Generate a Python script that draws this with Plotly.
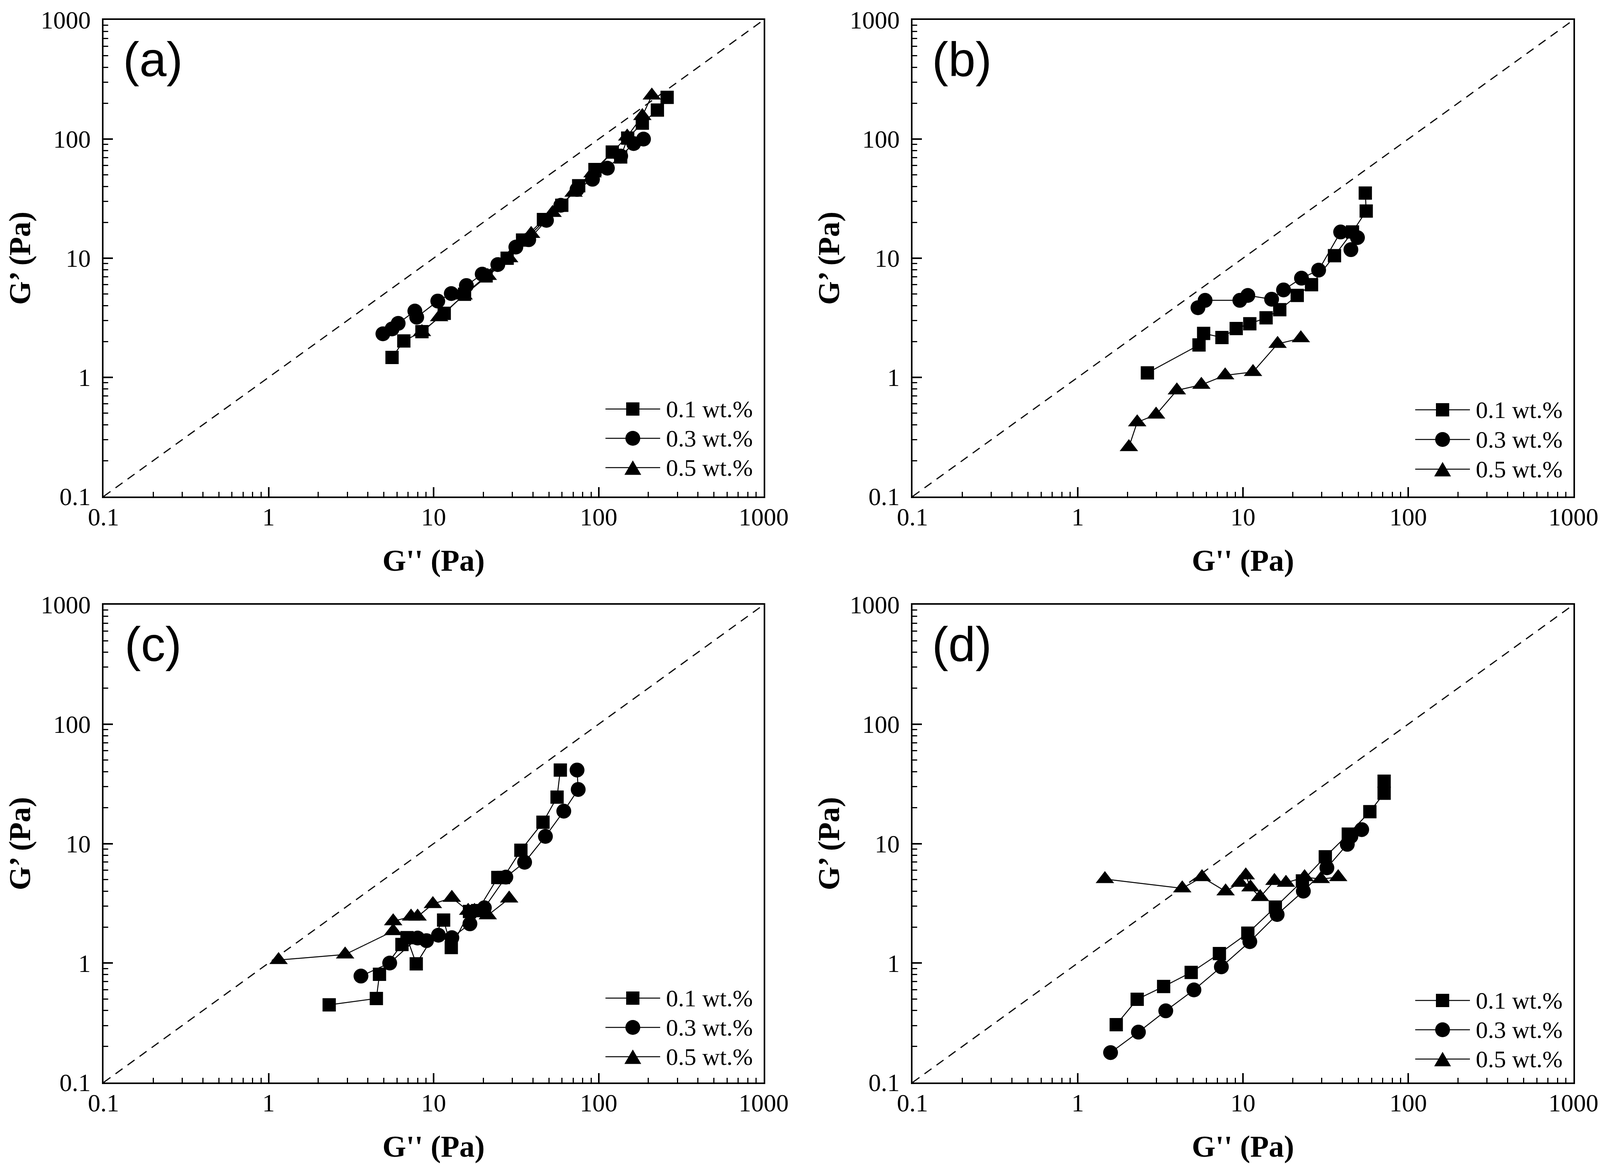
import plotly.graph_objects as go

# ---- data (G'' on x, G' on y, Pa) ----
sq_a_x = [5.6, 6.6, 8.5, 11.6, 15.4, 20.8, 27.9, 34.6, 46.3, 59.8, 75.7, 95, 121, 136, 150, 184, 227, 260]
sq_a_y = [1.47, 2.02, 2.42, 3.45, 4.98, 7.1, 10.0, 14.2, 21.1, 27.8, 40.6, 55.5, 77.8, 70.8, 102, 136, 175, 224]
ci_a_x = [4.93, 5.6, 6.1, 7.7, 7.9, 10.6, 12.8, 15.8, 19.7, 24.5, 31.5, 37.7, 48.3, 59, 74, 91.8, 113, 136, 163, 187]
ci_a_y = [2.32, 2.55, 2.84, 3.6, 3.2, 4.37, 5.05, 5.9, 7.35, 8.85, 12.4, 14.3, 20.8, 27.8, 37.8, 46, 57, 72, 91.7, 100]
tr_a_x = [8.5, 10.8, 15.2, 21.3, 28.7, 39, 52.6, 70.5, 91.8, 149, 184, 210]
tr_a_y = [2.4, 3.2, 4.87, 7.1, 10, 16, 24, 35.5, 51.6, 105, 156, 232]

sq_b_x = [2.64, 5.42, 5.78, 7.46, 9.1, 11.0, 13.8, 16.7, 21.3, 26, 35.8, 46, 55.7, 55]
sq_b_y = [1.09, 1.87, 2.34, 2.16, 2.57, 2.82, 3.16, 3.7, 4.87, 6.0, 10.5, 16.6, 24.9, 35.2]
ci_b_x = [5.34, 5.9, 9.57, 10.7, 14.9, 17.6, 22.6, 28.7, 39, 49.3, 45]
ci_b_y = [3.84, 4.43, 4.43, 4.87, 4.53, 5.42, 6.8, 7.94, 16.6, 14.9, 11.8]
tr_b_x = [2.04, 2.29, 2.98, 3.98, 5.6, 7.8, 11.5, 16.2, 22.4]
tr_b_y = [0.26, 0.42, 0.487, 0.778, 0.866, 1.04, 1.11, 1.91, 2.13]

sq_c_x = [2.33, 4.5, 4.7, 6.43, 6.9, 7.85, 11.5, 12.8, 16.5, 18.5, 24.5, 26.5, 33.8, 46, 56, 58.6]
sq_c_y = [0.447, 0.505, 0.806, 1.43, 1.63, 0.985, 2.29, 1.35, 2.7, 2.75, 5.2, 5.2, 8.8, 15.1, 24.5, 41.3]
ci_c_x = [3.63, 5.42, 8.0, 9.06, 10.7, 12.9, 16.6, 20.3, 27.4, 35.6, 47.6, 61.5, 75.2, 74]
ci_c_y = [0.778, 1.0, 1.62, 1.54, 1.71, 1.63, 2.13, 2.9, 5.24, 6.98, 11.5, 18.7, 28.4, 41.3]
tr_c_x = [1.15, 2.91, 5.69, 5.69, 7.3, 8.0, 9.9, 12.9, 16.2, 17.7, 21.3, 28.7]
tr_c_y = [1.06, 1.18, 1.85, 2.24, 2.45, 2.45, 3.12, 3.52, 2.74, 2.74, 2.51, 3.47]

sq_d_x = [1.71, 2.29, 3.31, 4.86, 7.2, 10.7, 15.7, 22.9, 31.5, 43.4, 58.6, 71.5, 71.5]
sq_d_y = [0.305, 0.497, 0.636, 0.835, 1.2, 1.78, 2.94, 4.87, 7.76, 12, 18.5, 26.4, 33.3]
ci_d_x = [1.58, 2.33, 3.41, 5.05, 7.4, 11, 16.1, 23.2, 32.2, 42.8, 45, 52.3]
ci_d_y = [0.178, 0.264, 0.398, 0.596, 0.93, 1.51, 2.55, 4.0, 6.27, 9.86, 11.5, 13.1]
tr_d_x = [1.46, 4.29, 5.65, 7.85, 9.57, 10.4, 11.1, 12.7, 15.5, 18.2, 23.6, 29.6, 37.7]
tr_d_y = [5.05, 4.22, 5.24, 3.98, 4.7, 5.42, 4.3, 3.57, 4.87, 4.7, 5.24, 5.05, 5.24]

series_names = ["0.1 wt.%", "0.3 wt.%", "0.5 wt.%"]
panel_labels = ["(a)", "(b)", "(c)", "(d)"]
tick_vals = [0.1, 1, 10, 100, 1000]
tick_text = ["0.1", "1", "10", "100", "1000"]

panels = [
    [(sq_a_x, sq_a_y), (ci_a_x, ci_a_y), (tr_a_x, tr_a_y)],
    [(sq_b_x, sq_b_y), (ci_b_x, ci_b_y), (tr_b_x, tr_b_y)],
    [(sq_c_x, sq_c_y), (ci_c_x, ci_c_y), (tr_c_x, tr_c_y)],
    [(sq_d_x, sq_d_y), (ci_d_x, ci_d_y), (tr_d_x, tr_d_y)],
]

W, H = 4102, 2995
# pixel boxes of the four plot areas: left, right, top, bottom
boxes = [(265, 1955, 51, 1271), (2336, 4028, 51, 1271),
         (265, 1955, 1548, 2771), (2336, 4028, 1548, 2771)]
# legend row heights above the bottom axis, per panel
legend_rows = [[224, 149, 74], [222, 146, 70], [216, 141, 66], [210, 135, 60]]

symbols = ["square", "circle", "triangle-up"]
sizes = [34, 38, 41]
serif = "Liberation Serif, Times New Roman, serif"

fig = go.Figure()
for i, series in enumerate(panels):
    sfx = "" if i == 0 else str(i + 1)
    for j, (xs, ys) in enumerate(series):
        fig.add_trace(go.Scatter(
            x=xs, y=ys, mode="lines+markers", name=series_names[j],
            xaxis="x" + sfx, yaxis="y" + sfx, showlegend=False,
            line=dict(color="black", width=2.5),
            marker=dict(symbol=symbols[j], size=sizes[j], color="black"),
        ))

axis_style = dict(
    type="log", range=[-1, 3], tickmode="array", tickvals=tick_vals, ticktext=tick_text,
    ticks="inside", ticklen=24, tickwidth=4, tickcolor="black",
    minor=dict(ticks="inside", ticklen=12, tickwidth=3, tickcolor="black", dtick="D1"),
    showline=True, linewidth=4, linecolor="black", mirror=True,
    showgrid=False, zeroline=False, automargin=False,
    tickfont=dict(family=serif, size=64, color="black"),
)

layout = dict(width=W, height=H, autosize=False, margin=dict(l=0, r=0, t=0, b=0),
              paper_bgcolor="white", plot_bgcolor="white", showlegend=False)
shapes = []
annotations = []
title_font = dict(family=serif, size=78, color="black", weight="bold")

for i, (L, R, T, B) in enumerate(boxes):
    sfx = "" if i == 0 else str(i + 1)
    layout["xaxis" + sfx] = dict(axis_style, domain=[L / W, R / W], anchor="y" + sfx,
                                 ticklabelstandoff=-7,
                                 title=dict(text="G'' (Pa)", font=title_font, standoff=50))
    layout["yaxis" + sfx] = dict(axis_style, domain=[1 - B / H, 1 - T / H], anchor="x" + sfx,
                                 ticklabelstandoff=16,
                                 title=dict(text="G’ (Pa)", font=title_font, standoff=2))
    # y = x reference line across the square log box
    shapes.append(dict(type="line", xref="x" + sfx + " domain", yref="y" + sfx + " domain",
                       x0=0, y0=0, x1=1, y1=1, line=dict(color="black", width=3, dash="22px,16px")))
    annotations.append(dict(text=panel_labels[i], xref="x" + sfx + " domain", yref="y" + sfx + " domain",
                            x=0.075, y=0.918, xanchor="center", yanchor="middle", showarrow=False,
                            font=dict(family="Liberation Sans, Arial, sans-serif", size=125, color="black")))
    # hand-drawn legend in the lower-right corner
    for j, off in enumerate(legend_rows[i]):
        cy = B - off
        yp = 1 - cy / H
        shapes.append(dict(type="line", xref="paper", yref="paper", x0=(R - 405) / W, x1=(R - 265) / W,
                           y0=yp, y1=yp, line=dict(color="black", width=2.5)))
        cx = R - 335
        if j == 0:
            h = 17
            shapes.append(dict(type="rect", xref="paper", yref="paper", x0=(cx - h) / W, x1=(cx + h) / W,
                               y0=1 - (cy + h) / H, y1=1 - (cy - h) / H, fillcolor="black", line=dict(width=0)))
        elif j == 1:
            h = 19
            shapes.append(dict(type="circle", xref="paper", yref="paper", x0=(cx - h) / W, x1=(cx + h) / W,
                               y0=1 - (cy + h) / H, y1=1 - (cy - h) / H, fillcolor="black", line=dict(width=0)))
        else:
            hw, ht = 21.5, 18.5
            path = "M{},{} L{},{} L{},{} Z".format((cx - hw) / W, 1 - (cy + ht) / H, (cx + hw) / W,
                                                   1 - (cy + ht) / H, cx / W, 1 - (cy - ht) / H)
            shapes.append(dict(type="path", xref="paper", yref="paper", path=path,
                               fillcolor="black", line=dict(width=0)))
        annotations.append(dict(text=series_names[j], xref="paper", yref="paper", x=(R - 252) / W, y=yp,
                                xanchor="left", yanchor="middle", showarrow=False,
                                font=dict(family=serif, size=62, color="black")))

layout["shapes"] = shapes
layout["annotations"] = annotations
fig.update_layout(**layout)

fig.write_html("out.html", config={"displayModeBar": False},
               post_script="document.body.style.margin='0';document.body.style.overflow='hidden';")
